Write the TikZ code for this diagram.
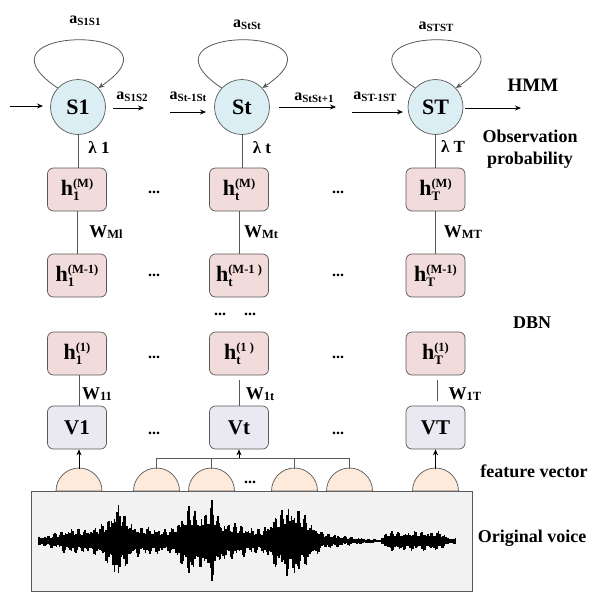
\documentclass[tikz,border=0pt]{standalone}
\usepackage{fontspec}
\setmainfont{Liberation Serif}
\usetikzlibrary{arrows.meta}
\definecolor{stfill}{RGB}{219,238,243}
\definecolor{hfill}{RGB}{242,220,219}
\definecolor{vfill}{RGB}{234,233,242}
\definecolor{semifill}{RGB}{253,234,218}
\definecolor{voicefill}{RGB}{242,242,242}
\definecolor{edgegray}{RGB}{89,89,89}
\newcommand\mysub[1]{\raisebox{-5pt}{\fontsize{13}{13}\selectfont #1}}
\newcommand\mysup[1]{\raisebox{8.5pt}{\fontsize{12.5}{13}\selectfont #1}}
\newcommand\hlab[2]{h\rlap{\mysub{#1}}\mysup{#2}}
\newcommand\alab[1]{{\fontsize{16}{16}\selectfont a}\raisebox{-1.5pt}{\fontsize{11}{12}\selectfont #1}}
\newcommand\wlab[1]{{\fontsize{18}{18}\selectfont W}\raisebox{-0.5pt}{\fontsize{12.5}{12}\selectfont #1}}
\tikzset{
  state/.style={circle, draw=edgegray, line width=0.7pt, fill=stfill, minimum size=55pt, inner sep=0pt, font=\fontsize{22}{24}\selectfont\bfseries},
  hbox/.style={rectangle, rounded corners=6pt, draw=edgegray, line width=0.7pt, fill=hfill, minimum width=59pt, minimum height=43pt, inner sep=0pt, font=\fontsize{22}{24}\selectfont\bfseries},
  vbox/.style={hbox, fill=vfill, font=\fontsize{21}{24}\selectfont\bfseries},
  lbl/.style={inner sep=0pt, font=\bfseries},
  side/.style={inner sep=0pt, align=center, font=\fontsize{18}{22}\selectfont\bfseries},
  lam/.style={inner sep=0pt, font=\fontsize{17}{18}\selectfont\bfseries},
  dots/.style={inner sep=0pt, font=\fontsize{16}{16}\selectfont\bfseries},
  conn/.style={draw=edgegray, line width=0.8pt},
  arr/.style={-{Stealth[length=6pt,width=5pt]}, line width=0.8pt, black},
  loop/.style={draw=edgegray, line width=0.8pt, -{Stealth[length=6pt,width=5pt]}},
  semi/.style={draw=edgegray, line width=0.7pt, fill=semifill},
}
\begin{document}
\begin{tikzpicture}[x=1pt,y=-1pt]
\useasboundingbox (0,0) rectangle (599,592);

% HMM states
\node[state] (S1) at (78,107) {S1};
\node[state] (St) at (242,107) {St};
\node[state] (ST) at (435.5,107) {ST};

% self loops
\draw[loop] (S1.137) .. controls +(-95,-64) and +(95,-64) .. (S1.43);
\draw[loop] (St.137) .. controls +(-95,-64) and +(95,-64) .. (St.43);
\draw[loop] (ST.137) .. controls +(-95,-64) and +(95,-64) .. (ST.43);
\node[lbl] (aS1S1) at (85,21) {\alab{S1S1}};
\node[lbl] (aStSt) at (247,25) {\alab{StSt}};
\node[lbl] (aSTST) at (436,27) {\alab{STST}};

% transition arrows
\coordinate (in1a) at (10,106);  \coordinate (in1b) at (43,106);
\coordinate (o1a) at (113,108);  \coordinate (o1b) at (144,108);
\coordinate (in2a) at (170,112); \coordinate (in2b) at (206,112);
\coordinate (o2a) at (279,107);  \coordinate (o2b) at (336,107);
\coordinate (in3a) at (352,112); \coordinate (in3b) at (403,112);
\coordinate (o3a) at (465,108);  \coordinate (o3b) at (521,108);
\draw[arr] (in1a) -- (in1b);
\draw[arr] (o1a) -- (o1b);
\draw[arr] (in2a) -- (in2b);
\draw[arr] (o2a) -- (o2b);
\draw[arr] (in3a) -- (in3b);
\draw[arr] (o3a) -- (o3b);
\node[lbl] (aS1S2) at (132,97) {\alab{S1S2}};
\node[lbl] (aSt1St) at (188,97) {\alab{St-1St}};
\node[lbl] (aStSt1) at (314,98) {\alab{StSt+1}};
\node[lbl] (aST1ST) at (375,97) {\alab{ST-1ST}};

% right-hand labels
\node[side, font=\fontsize{19}{22}\selectfont\bfseries] (hmm) at (533,85) {HMM};
\node[side] (obs) at (530,149) {Observation\\probability};
\node[side] (dbn) at (532,323) {DBN};
\node[side] (fv) at (534,471) {feature vector};
\node[side] (ov) at (532,538) {Original voice};

% DBN boxes
\node[hbox] (h1M) at (77,189.5) {\hlab{1}{(M)}};
\node[hbox] (htM) at (239,189.5) {\hlab{t}{(M)}};
\node[hbox] (hTM) at (435.5,189.5) {\hlab{T}{(M)}};
\node[hbox] (h1M1) at (77,275.5) {\hlab{1}{(M-1)}};
\node[hbox] (htM1) at (239,275.5) {\hlab{t}{(M-1 )}};
\node[hbox] (hTM1) at (435.5,275.5) {\hlab{T}{(M-1)}};
\node[hbox] (h11) at (77,353.5) {\hlab{1}{(1)}};
\node[hbox] (ht1) at (239,353.5) {\hlab{t}{(1 )}};
\node[hbox] (hT1) at (435.5,353.5) {\hlab{T}{(1)}};
\node[vbox] (V1) at (77,427.5) {V1};
\node[vbox] (Vt) at (239,427.5) {Vt};
\node[vbox] (VT) at (435.5,427.5) {VT};

% vertical connectors
\draw[conn] (S1.south) -- (S1.south |- h1M.north);
\draw[conn] (St.south) -- (St.south |- htM.north);
\draw[conn] (ST.south) -- (ST.south |- hTM.north);
\draw[conn] (h1M) -- (h1M1);
\draw[conn] (htM) -- (htM1);
\draw[conn] (hTM) -- (hTM1);
\draw[conn] ([xshift=2pt]h11.south) -- ([xshift=2pt]V1.north);
\draw[conn] ([yshift=-5pt]ht1.south) -- (Vt.north);
\draw[conn] ([xshift=2pt,yshift=-5pt]hT1.south) -- ([xshift=2pt,yshift=5pt]VT.north);

\node[lam] (l1) at (99,148) {λ 1};
\node[lam] (lt) at (262,148) {λ t};
\node[lam] (lT) at (453,147) {λ T};
\node[lbl] (wM1) at (106,232) {\wlab{Ml}};
\node[lbl] (wMt) at (261,232) {\wlab{Mt}};
\node[lbl] (wMT) at (463,232) {\wlab{MT}};
\node[lbl] (w11) at (97,394) {\wlab{11}};
\node[lbl] (w1t) at (260,394) {\wlab{1t}};
\node[lbl] (w1T) at (465,394) {\wlab{1T}};

% ellipses
\foreach \yy/\nm in {192/a,275/b,357/c,433/d}{
  \node[dots] (dl\nm) at (154,\yy) {...};
  \node[dots] (dr\nm) at (338,\yy) {...};
}
\node[dots] (du1) at (220,314) {...};
\node[dots] (du2) at (250,314) {...};
\node[dots] (db) at (250,482) {...};

% voice box and waveform
\node[rectangle, draw=edgegray, line width=0.8pt, fill=voicefill, minimum width=441pt, minimum height=100pt, inner sep=0pt] (voice) at (251.5,541) {};
\draw[black, line width=1.4pt] (39,541) -- (456,541);
\foreach \xa/\aa/\xb/\ab in {39/5/55/8, 55/8/70/14, 70/14/85/12, 85/12/100/16, 100/16/110/26, 110/26/117/42, 117/42/124/28, 124/28/135/16, 135/16/170/12, 170/12/183/27, 183/27/189/37, 189/37/200/27, 200/27/212/42, 212/42/220/22, 220/22/262/12, 262/12/276/27, 276/27/287/36, 287/36/296/38, 296/38/310/20, 310/20/323/9, 323/9/345/5, 345/5/366/3, 366/3/380/1.5, 380/1.5/386/10, 386/10/440/10, 440/10/448/4, 448/4/456/3}{
  \pgfmathsetmacro\xs{\xa+1.5}
  \foreach \x in {\xa,\xs,...,\xb}{
    \pgfmathsetmacro\am{\aa+(\ab-\aa)*(\x-\xa)/(\xb-\xa)}
    \pgfmathsetmacro\up{\am*(0.45+0.55*abs(sin(\x*31)*cos(\x*23)))}
    \pgfmathsetmacro\dn{\am*(0.45+0.55*abs(sin(\x*29+40)*cos(\x*17)))}
    \draw[black, line width=1.5pt] ({\x},{541-\up}) -- ({\x},{541+\dn});
  }
}

% feature vector semicircles
\foreach \cx/\nm in {79/1,156.5/2,211.5/3,294.5/4,349.5/5,435.5/6}{
  \draw[semi] (\cx-23,491) arc (180:0:23pt) -- cycle;
  \coordinate (fv\nm) at (\cx,469);
}
% bracket
\coordinate (brk) at (239,458);
\draw[conn] (156.5,469) -- (156.5,458) -- (349.5,458) -- (349.5,469);
\draw[conn] (211.5,458) -- (211.5,469);
\draw[conn] (294.5,458) -- (294.5,469);
\draw[arr] (brk) -- (Vt.south);
\draw[arr] (fv1) -- (fv1 |- V1.south);
\draw[arr] (fv6) -- (VT.south);
\end{tikzpicture}
\end{document}
